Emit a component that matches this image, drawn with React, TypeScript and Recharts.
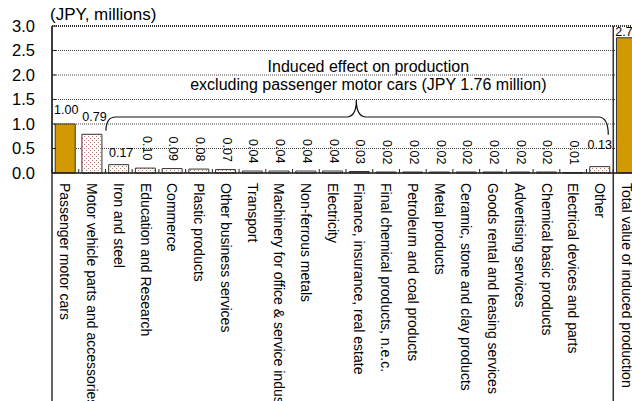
import React from 'react';
import { BarChart, Bar, XAxis, YAxis, CartesianGrid, ReferenceLine, ReferenceArea, LabelList, Cell } from 'recharts';

const categories = [
  'Passenger motor cars',
  'Motor vehicle parts and accessories',
  'Iron and steel',
  'Education and Research',
  'Commerce',
  'Plastic products',
  'Other business services',
  'Transport',
  'Machinery for office & service industry',
  'Non-ferrous metals',
  'Electricity',
  'Finance, insurance, real estate',
  'Final chemical products, n.e.c.',
  'Petroleum and coal products',
  'Metal products',
  'Ceramic, stone and clay products',
  'Goods rental and leasing services',
  'Advertising services',
  'Chemical basic products',
  'Electrical devices and parts',
  'Other',
  'Total value of induced production',
];

const values = [1.0, 0.79, 0.17, 0.1, 0.09, 0.08, 0.07, 0.04, 0.04, 0.04, 0.04, 0.03, 0.02, 0.02, 0.02, 0.02, 0.02, 0.02, 0.02, 0.01, 0.13, 2.76];

const yTicks = [0, 0.5, 1.0, 1.5, 2.0, 2.5, 3.0];
const unitLabel = '(JPY, millions)';
const annotationLines = ['Induced effect on production', 'excluding passenger motor cars (JPY 1.76 million)'];
const braceFrom = 'Iron and steel';
const braceTo = 'Other';
const braceRange = [0.78, 1.49];

const data = categories.map((name, i) => ({ name, value: values[i] }));

const FONT = '"Liberation Sans", Arial, sans-serif';
const GOLD = '#D29A00';
const X_MARGIN = 10;
const Y_MARGIN = 17;
const highlighted = new Set([0, categories.length - 1]);
const horizontalLabelNudge: Record<number, [number, number]> = {
  0: [1, -10],
  1: [2.5, -13],
  2: [2.5, -8],
  20: [0, -18],
  21: [1, -2],
};

const XTick = (props: any) => {
  const { x, y, payload } = props;
  const half = payload && typeof payload.offset === 'number' && payload.offset > 0 ? payload.offset : 13.36;
  const axisY = y - X_MARGIN;
  return (
    <g>
      <line x1={x - half} x2={x - half} y1={axisY} y2={axisY - 4} stroke="#222" strokeWidth={1} />
      <text
        transform={`translate(${x},${axisY + 10}) rotate(90)`}
        dy="0.35em"
        textAnchor="start"
        fontSize={14}
        fontFamily={FONT}
        fill="#000"
      >
        {payload.value}
      </text>
    </g>
  );
};

const YTick = (props: any) => {
  const { x, y, payload } = props;
  const axisX = x + Y_MARGIN;
  return (
    <g>
      <line x1={axisX} x2={axisX + 4} y1={y} y2={y} stroke="#222" strokeWidth={1} />
      <text x={x} y={y} dy="0.35em" textAnchor="end" fontSize={16.5} fontFamily={FONT} fill="#000">
        {Number(payload.value).toFixed(1)}
      </text>
    </g>
  );
};

const ValueLabel = (props: any) => {
  const { x, y, width, value, index } = props;
  const cx = x + width / 2;
  const text = Number(value).toFixed(2);
  const nudge = horizontalLabelNudge[index];
  if (nudge) {
    return (
      <text x={cx + nudge[0]} y={y + nudge[1]} textAnchor="middle" fontSize={12.5} fontFamily={FONT} fill="#000">
        {text}
      </text>
    );
  }
  return (
    <text
      transform={`translate(${cx + 1.5},${y - 32}) rotate(90)`}
      dy="0.35em"
      textAnchor="start"
      fontSize={12.5}
      fontFamily={FONT}
      fill="#000"
    >
      {text}
    </text>
  );
};

const BraceShape = (props: any) => {
  const { x, y, width, height } = props;
  const x0 = x + 0.5;
  const x1 = x + width - 5;
  const top = y;
  const bottom = y + height;
  const hy = top + 17;
  const cx = x + width / 2 - 3;
  const r = 10;
  const d = [
    `M ${x0} ${bottom - 4}`,
    `Q ${x0} ${hy} ${x0 + r} ${hy}`,
    `L ${cx - r} ${hy}`,
    `Q ${cx} ${hy} ${cx} ${top}`,
    `Q ${cx} ${hy} ${cx + r} ${hy}`,
    `L ${x1 - r} ${hy}`,
    `Q ${x1} ${hy} ${x1} ${bottom}`,
  ].join(' ');
  const tx = cx + 12;
  return (
    <g>
      <path d={d} fill="none" stroke="#111" strokeWidth={1.2} />
      <text x={tx} y={top - 28} textAnchor="middle" fontSize={16} fontFamily={FONT} fill="#000">
        {annotationLines[0]}
      </text>
      <text x={tx} y={top - 10} textAnchor="middle" fontSize={16} fontFamily={FONT} fill="#000">
        {annotationLines[1]}
      </text>
    </g>
  );
};

const ExtendedVLine = (props: any) => {
  const { x1, y1, x2, y2 } = props;
  return <line x1={x1} x2={x2} y1={Math.min(y1, y2)} y2={401} stroke="#333" strokeWidth={1.5} />;
};

export default function App() {
  return (
    <div style={{ position: 'absolute', left: 0, top: 0, width: 632, height: 401, overflow: 'hidden', background: '#fff' }}>
      <div
        style={{
          position: 'absolute',
          left: 50,
          top: 5,
          fontFamily: FONT,
          fontSize: 17,
          lineHeight: '20px',
          color: '#000',
          whiteSpace: 'nowrap',
        }}
      >
        {unitLabel}
      </div>
      <BarChart
        width={640}
        height={401}
        data={data}
        margin={{ top: 26, right: 0, bottom: 0, left: 0 }}
        barCategoryGap="12%"
        style={{ position: 'absolute', left: 0, top: 0 }}
      >
        <defs>
          <pattern id="dots" width="4" height="4" patternUnits="userSpaceOnUse">
            <rect width="4" height="4" fill="#fff" />
            <rect x="0" y="0" width="1" height="1" fill="#b07a6a" />
            <rect x="2" y="2" width="1" height="1" fill="#b07a6a" />
          </pattern>
        </defs>
        <CartesianGrid vertical={false} stroke="#444" strokeDasharray="1 1" />
        <XAxis
          dataKey="name"
          type="category"
          interval={0}
          height={228}
          tickSize={0}
          tickMargin={X_MARGIN}
          tickLine={false}
          axisLine={{ stroke: '#222', strokeWidth: 1.5 }}
          tick={<XTick />}
        />
        <YAxis
          type="number"
          domain={[0, 3]}
          ticks={yTicks}
          width={52}
          tickSize={0}
          tickMargin={Y_MARGIN}
          tickLine={false}
          axisLine={{ stroke: '#333', strokeWidth: 1.5 }}
          tick={<YTick />}
        />
        <ReferenceLine y={3} stroke="#333" strokeWidth={2} strokeDasharray="1 1" />
        <ReferenceLine x={categories[0]} position="start" shape={<ExtendedVLine />} />
        <ReferenceLine x={categories[categories.length - 1]} position="start" shape={<ExtendedVLine />} />
        <Bar dataKey="value" stroke="#333" strokeWidth={1} isAnimationActive={false}>
          {data.map((d, i) => (
            <Cell key={d.name} fill={highlighted.has(i) ? GOLD : 'url(#dots)'} />
          ))}
          <LabelList dataKey="value" content={<ValueLabel />} />
        </Bar>
        <ReferenceArea
          x1={braceFrom}
          x2={braceTo}
          y1={braceRange[0]}
          y2={braceRange[1]}
          ifOverflow="visible"
          shape={<BraceShape />}
        />
      </BarChart>
    </div>
  );
}
